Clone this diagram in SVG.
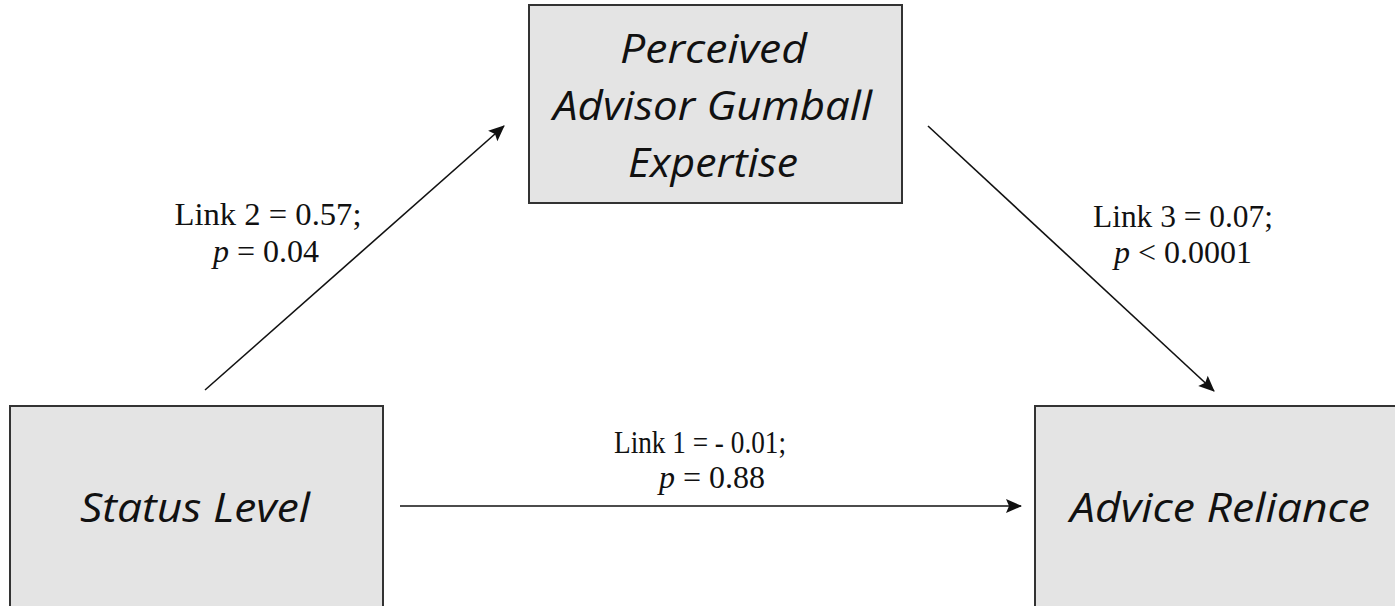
<svg xmlns="http://www.w3.org/2000/svg" width="1395" height="606" viewBox="0 0 1395 606">
<style>
.box{fill:#e4e4e4;stroke:#333;stroke-width:2}
.nt{font-family:"Open Sans","Liberation Sans",sans-serif;font-style:italic;font-size:41px;fill:#111;text-anchor:middle}
.lb{font-family:"Liberation Serif","Times New Roman",serif;font-size:32px;fill:#111}
.ln{stroke:#111;stroke-width:1.6;fill:none;marker-end:url(#ah)}
</style>
<defs>
<marker id="ah" viewBox="0 0 10 10" refX="9" refY="5" markerWidth="10" markerHeight="10" markerUnits="userSpaceOnUse" orient="auto" overflow="visible">
<path d="M-6,-2 L10,5 L-6,12 L-3,5 Z" fill="#111" transform="translate(0,0)"/>
</marker>
</defs>
<rect width="1395" height="606" fill="#fff"/>
<g id="connectors">
<line class="ln" x1="205" y1="390" x2="504" y2="126"/>
<line class="ln" x1="928" y1="126" x2="1214" y2="391"/>
<line class="ln" x1="400" y1="506" x2="1021" y2="506"/>
<text class="lb" x="268" y="225" text-anchor="middle" textLength="187" lengthAdjust="spacingAndGlyphs">Link 2 = 0.57;</text>
<text class="lb" x="266" y="262" text-anchor="middle"><tspan font-style="italic">p</tspan> = 0.04</text>
<text class="lb" x="1183" y="227" text-anchor="middle" textLength="180" lengthAdjust="spacingAndGlyphs">Link 3 = 0.07;</text>
<text class="lb" x="1183" y="263" text-anchor="middle"><tspan font-style="italic">p</tspan> &lt; 0.0001</text>
<text class="lb" x="700" y="453" text-anchor="middle" textLength="172" lengthAdjust="spacingAndGlyphs">Link 1 = - 0.01;</text>
<text class="lb" x="712" y="488" text-anchor="middle"><tspan font-style="italic">p</tspan> = 0.88</text>
</g>
<g id="node-expertise">
<rect class="box" x="529" y="5" width="373" height="198"/>
<text class="nt" x="713.5" y="63" textLength="187" lengthAdjust="spacingAndGlyphs">Perceived</text>
<text class="nt" x="712.5" y="120" textLength="319" lengthAdjust="spacingAndGlyphs">Advisor Gumball</text>
<text class="nt" x="713" y="177" textLength="170" lengthAdjust="spacingAndGlyphs">Expertise</text>
</g>
<g id="node-status">
<rect class="box" x="10" y="406" width="373" height="210"/>
<text class="nt" x="195" y="522" textLength="230" lengthAdjust="spacingAndGlyphs">Status Level</text>
</g>
<g id="node-advice">
<rect class="box" x="1035" y="406" width="380" height="210"/>
<text class="nt" x="1220" y="522" textLength="300" lengthAdjust="spacingAndGlyphs">Advice Reliance</text>
</g>
</svg>
